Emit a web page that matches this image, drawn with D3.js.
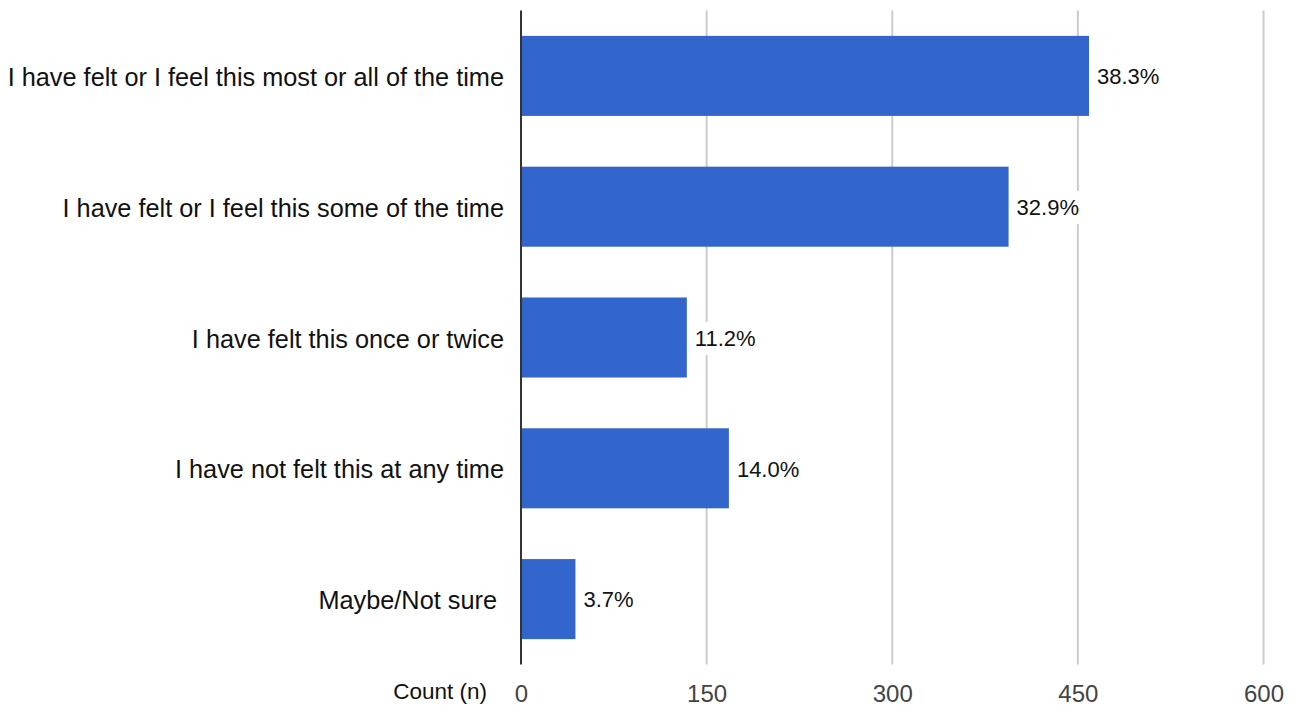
<!DOCTYPE html>
<html>
<head>
<meta charset="utf-8">
<script src="https://cdn.jsdelivr.net/npm/d3@7"></script>
<style>
  html, body { margin: 0; padding: 0; background: #fff; }
  svg { display: block; font-family: "Liberation Sans", Arial, Helvetica, sans-serif; }
</style>
</head>
<body>
<svg id="chart" width="1297" height="706"></svg>
<script>
// Survey responses (count of respondents per answer)
const categories = [
  "I have felt or I feel this most or all of the time",
  "I have felt or I feel this some of the time",
  "I have felt this once or twice",
  "I have not felt this at any time",
  "Maybe/Not sure "
];
const counts = [459, 394, 134, 168, 44];
const xTicks = [0, 150, 300, 450, 600];
const axisTitle = "Count (n)";

const total = d3.sum(counts);
const data = categories.map((c, i) => ({ category: c, count: counts[i], share: counts[i] / total }));

const svg = d3.select("#chart");
const x0 = 521, x1 = 1263.5, yTop = 10.5, yBottom = 664.5;

const x = d3.scaleLinear().domain([0, 600]).range([x0, x1]);
const y = d3.scaleBand()
  .domain(categories)
  .range([yTop, yBottom])
  .paddingInner(0.388)
  .paddingOuter(0.194);

// vertical gridlines
svg.append("g")
  .selectAll("line")
  .data(xTicks.filter(t => t > 0))
  .join("line")
  .attr("x1", d => x(d)).attr("x2", d => x(d))
  .attr("y1", yTop).attr("y2", yBottom)
  .attr("stroke", "#cccccc")
  .attr("stroke-width", 2);

// bars
svg.append("g")
  .selectAll("rect")
  .data(data)
  .join("rect")
  .attr("x", x(0))
  .attr("y", d => y(d.category))
  .attr("width", d => x(d.count) - x(0))
  .attr("height", y.bandwidth())
  .attr("fill", "#3366cc");

// baseline
svg.append("line")
  .attr("x1", x(0)).attr("x2", x(0))
  .attr("y1", yTop).attr("y2", yBottom)
  .attr("stroke", "#333333")
  .attr("stroke-width", 2);

// value labels, on a white backing so gridlines break around them
const fmt = d3.format(".1%");
const valueLabels = svg.append("g")
  .selectAll("g")
  .data(data)
  .join("g")
  .attr("transform", d => `translate(${x(d.count) + 8}, ${y(d.category) + y.bandwidth() / 2})`);

valueLabels.append("text")
  .attr("dy", "0.38em")
  .attr("font-size", 22)
  .attr("fill", "#111111")
  .text(d => fmt(d.share));

valueLabels.each(function () {
  const g = d3.select(this);
  const bb = g.select("text").node().getBBox();
  g.insert("rect", "text")
    .attr("x", bb.x - 2)
    .attr("y", bb.y - 4)
    .attr("width", bb.width + 4)
    .attr("height", bb.height + 8)
    .attr("fill", "#ffffff");
});

// category labels
svg.append("g")
  .selectAll("text")
  .data(data)
  .join("text")
  .attr("x", 504)
  .attr("y", d => y(d.category) + y.bandwidth() / 2)
  .attr("dy", "0.4em")
  .attr("text-anchor", "end")
  .attr("font-size", 25.3)
  .attr("fill", "#111111")
  .style("white-space", "pre")
  .text(d => d.category);

// x axis tick labels
const xAxis = d3.axisBottom(x).tickValues(xTicks).tickSize(0).tickPadding(0);
const gx = svg.append("g")
  .attr("transform", `translate(0, ${yBottom + 20})`)
  .call(xAxis);
gx.select(".domain").remove();
gx.selectAll("text")
  .attr("font-size", 24)
  .attr("font-family", "Liberation Sans, Arial, sans-serif")
  .attr("fill", "#444444");

// axis title
svg.append("text")
  .attr("x", 487)
  .attr("y", 691.5)
  .attr("dy", "0.35em")
  .attr("text-anchor", "end")
  .attr("font-size", 22.5)
  .attr("fill", "#111111")
  .text(axisTitle);
</script>
</body>
</html>
